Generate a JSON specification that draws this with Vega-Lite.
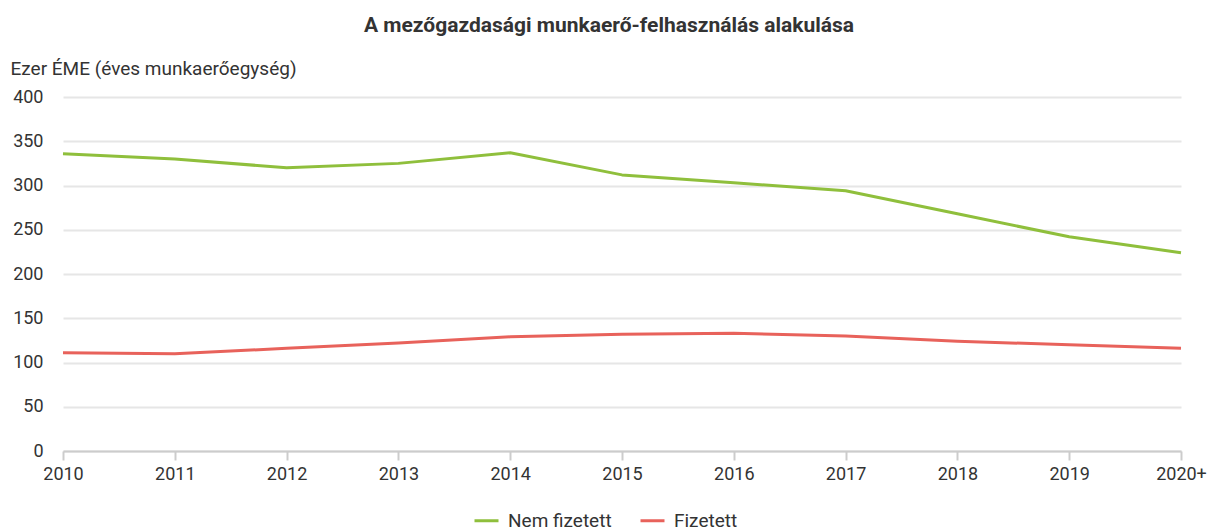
{
  "$schema": "https://vega.github.io/schema/vega-lite/v6.json",
  "width": 1118,
  "height": 354,
  "autosize": {"type": "none"},
  "padding": {"left": 63, "top": 97, "right": 30, "bottom": 80},
  "background": "white",
  "title": {
    "text": "A mezőgazdasági munkaerő-felhasználás alakulása",
    "font": "Roboto",
    "fontSize": 21,
    "fontWeight": "bold",
    "color": "#333333",
    "anchor": "middle",
    "frame": "group",
    "dx": -13,
    "offset": 23
  },
  "config": {
    "view": {"stroke": null},
    "font": "Roboto"
  },
  "data": {
    "values": [
      {"ev": "2010", "sorozat": "Nem fizetett", "ertek": 336},
      {"ev": "2011", "sorozat": "Nem fizetett", "ertek": 330},
      {"ev": "2012", "sorozat": "Nem fizetett", "ertek": 320},
      {"ev": "2013", "sorozat": "Nem fizetett", "ertek": 325},
      {"ev": "2014", "sorozat": "Nem fizetett", "ertek": 337},
      {"ev": "2015", "sorozat": "Nem fizetett", "ertek": 312},
      {"ev": "2016", "sorozat": "Nem fizetett", "ertek": 303},
      {"ev": "2017", "sorozat": "Nem fizetett", "ertek": 294},
      {"ev": "2018", "sorozat": "Nem fizetett", "ertek": 268},
      {"ev": "2019", "sorozat": "Nem fizetett", "ertek": 242},
      {"ev": "2020+", "sorozat": "Nem fizetett", "ertek": 224},
      {"ev": "2010", "sorozat": "Fizetett", "ertek": 111},
      {"ev": "2011", "sorozat": "Fizetett", "ertek": 110},
      {"ev": "2012", "sorozat": "Fizetett", "ertek": 116},
      {"ev": "2013", "sorozat": "Fizetett", "ertek": 122},
      {"ev": "2014", "sorozat": "Fizetett", "ertek": 129},
      {"ev": "2015", "sorozat": "Fizetett", "ertek": 132},
      {"ev": "2016", "sorozat": "Fizetett", "ertek": 133},
      {"ev": "2017", "sorozat": "Fizetett", "ertek": 130},
      {"ev": "2018", "sorozat": "Fizetett", "ertek": 124},
      {"ev": "2019", "sorozat": "Fizetett", "ertek": 120},
      {"ev": "2020+", "sorozat": "Fizetett", "ertek": 116}
    ]
  },
  "mark": {"type": "line", "strokeWidth": 3, "interpolate": "linear", "strokeJoin": "round"},
  "encoding": {
    "x": {
      "field": "ev",
      "type": "ordinal",
      "scale": {"type": "point", "padding": 0},
      "axis": {
        "title": null,
        "labelAngle": 0,
        "labelFontSize": 18,
        "labelColor": "#333333",
        "labelPadding": 5,
        "domainColor": "#cccccc",
        "domainWidth": 2,
        "tickColor": "#cccccc",
        "tickSize": 9,
        "tickWidth": 2,
        "grid": false
      }
    },
    "y": {
      "field": "ertek",
      "type": "quantitative",
      "scale": {"domain": [0, 400], "nice": false},
      "axis": {
        "values": [0, 50, 100, 150, 200, 250, 300, 350, 400],
        "title": "Ezer ÉME (éves munkaerőegység)",
        "titleAngle": 0,
        "titleAlign": "left",
        "titleBaseline": "alphabetic",
        "titleX": -53,
        "titleY": -23,
        "titleFontSize": 19,
        "titleFontWeight": "normal",
        "titleColor": "#333333",
        "labelFontSize": 18,
        "labelColor": "#333333",
        "labelPadding": 20,
        "domain": false,
        "ticks": false,
        "grid": true,
        "gridColor": "#e6e6e6",
        "gridWidth": 2
      }
    },
    "color": {
      "field": "sorozat",
      "type": "nominal",
      "scale": {"domain": ["Nem fizetett", "Fizetett"], "range": ["#8fbf3c", "#e8625b"]},
      "legend": {
        "title": null,
        "orient": "none",
        "direction": "horizontal",
        "legendX": 410,
        "legendY": 410,
        "symbolType": "stroke",
        "symbolSize": 576,
        "symbolStrokeWidth": 3,
        "labelFontSize": 19,
        "labelColor": "#333333",
        "labelOffset": 8,
        "columnPadding": 22
      }
    }
  }
}
